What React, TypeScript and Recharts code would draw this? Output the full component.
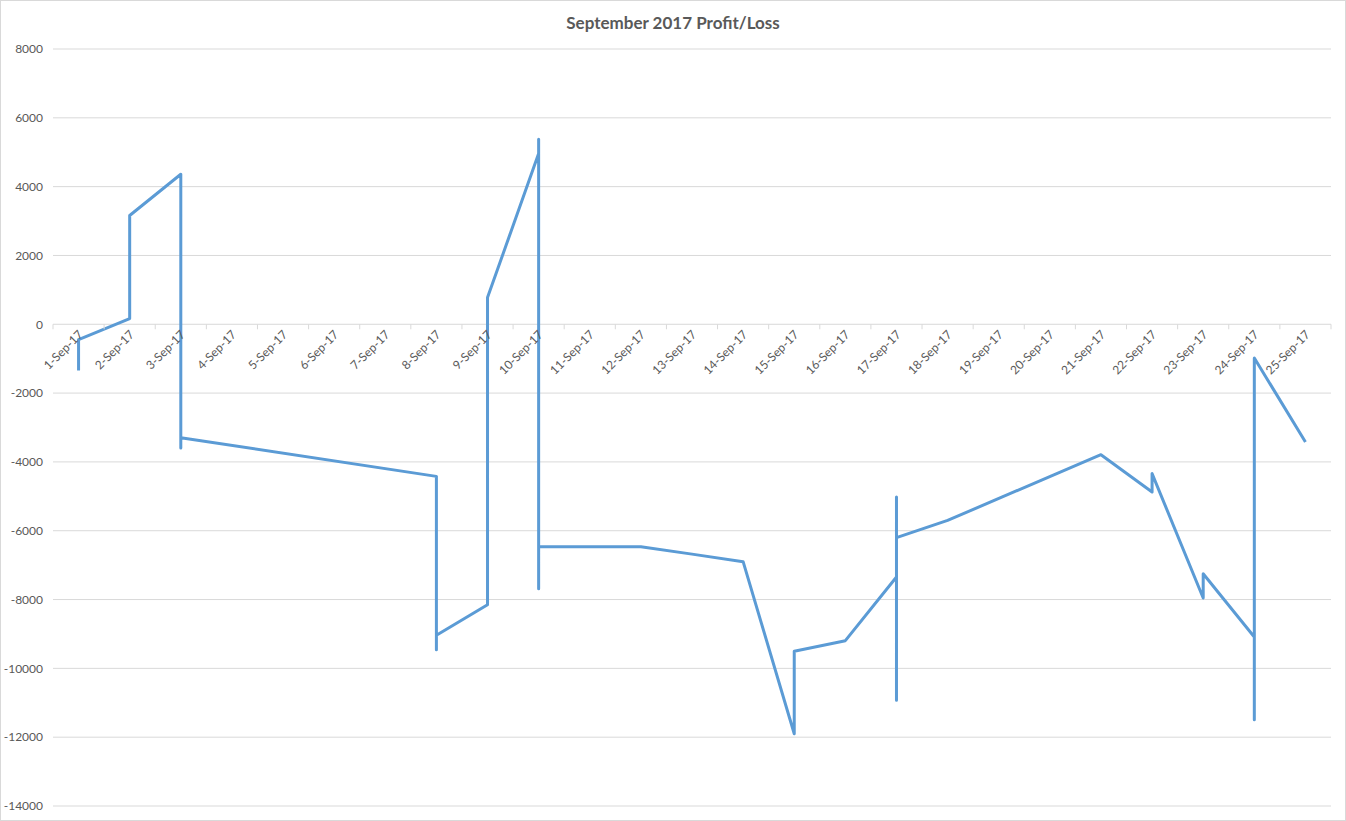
import React from "react";
import {
  LineChart,
  Line,
  XAxis,
  YAxis,
  CartesianGrid,
  ReferenceDot,
} from "recharts";

// each point is one trade day; repeated days draw the vertical jumps
const pointDays = [
  1, 1, 2, 2, 3, 3, 3, 8, 8, 8, 9, 9, 10, 10, 10, 10, 12, 13, 14, 15, 15, 16,
  17, 17, 17, 17, 18, 21, 22, 22, 23, 23, 24, 24, 24, 25,
];
const pnlValues = [
  -1340, -445, 165, 3160, 4360, -3595, -3295, -4420, -9460, -9040, -8150, 775,
  4960, 5380, -7685, -6465, -6465, -6680, -6900, -11900, -9500, -9195, -7345,
  -10930, -5020, -6200, -5700, -3790, -4875, -4340, -7955, -7250, -9090, -11490,
  -980, -3420,
];

const dayTicks = [
  1, 2, 3, 4, 5, 6, 7, 8, 9, 10, 11, 12, 13, 14, 15, 16, 17, 18, 19, 20, 21,
  22, 23, 24, 25,
];
const dayLabels = [
  "1-Sep-17", "2-Sep-17", "3-Sep-17", "4-Sep-17", "5-Sep-17", "6-Sep-17",
  "7-Sep-17", "8-Sep-17", "9-Sep-17", "10-Sep-17", "11-Sep-17", "12-Sep-17",
  "13-Sep-17", "14-Sep-17", "15-Sep-17", "16-Sep-17", "17-Sep-17", "18-Sep-17",
  "19-Sep-17", "20-Sep-17", "21-Sep-17", "22-Sep-17", "23-Sep-17", "24-Sep-17",
  "25-Sep-17",
];
const valueTicks = [
  -14000, -12000, -10000, -8000, -6000, -4000, -2000, 0, 2000, 4000, 6000, 8000,
];

const data = pointDays.map((day, i) => ({ day, pnl: pnlValues[i] }));
const dayBounds = [0, ...dayTicks].map((d) => d + 0.5);

const FONT = "Lato, 'Noto Sans', sans-serif";
const GRID = "#d9d9d9";
const TEXT = "#595959";

function DayLabel({ cx, cy, text }: { cx?: number; cy?: number; text: string }) {
  if (cx == null || cy == null) return null;
  const x = cx + 3;
  const y = cy + 9;
  return (
    <text
      x={x}
      y={y}
      textAnchor="end"
      dominantBaseline="middle"
      transform={`rotate(-45 ${x} ${y})`}
      fill={TEXT}
      fontSize={12}
      fontFamily={FONT}
    >
      {text}
    </text>
  );
}

function TickMark({ cx, cy }: { cx?: number; cy?: number }) {
  if (cx == null || cy == null) return null;
  return <line x1={cx} y1={cy} x2={cx} y2={cy + 5} stroke={GRID} strokeWidth={1} />;
}

export default function App() {
  return (
    <div
      style={{
        position: "absolute",
        left: 0,
        top: 0,
        width: 1346,
        height: 821,
        border: `1px solid ${GRID}`,
        boxSizing: "border-box",
        background: "#fff",
        fontFamily: FONT,
      }}
    >
      <div
        style={{
          position: "absolute",
          top: 11,
          left: 0,
          width: "100%",
          textAlign: "center",
          fontSize: 17,
          fontWeight: 700,
          color: TEXT,
        }}
      >
        September 2017 Profit/Loss
      </div>
      <LineChart
        width={1344}
        height={819}
        data={data}
        margin={{ top: 48, right: 14, bottom: 14, left: 0 }}
      >
        <CartesianGrid horizontal vertical={false} stroke={GRID} />
        <XAxis
          dataKey="day"
          type="number"
          domain={[0.5, 25.5]}
          ticks={dayTicks}
          allowDataOverflow
          hide
        />
        <YAxis
          type="number"
          domain={[-14000, 8000]}
          ticks={valueTicks}
          width={52}
          axisLine={false}
          tickLine={false}
          tickMargin={4}
          tick={{ fill: TEXT, fontSize: 12, fontFamily: FONT }}
        />
        {dayBounds.map((b) => (
          <ReferenceDot
            key={`b${b}`}
            x={b}
            y={0}
            r={0}
            ifOverflow="visible"
            shape={(p: any) => <TickMark cx={p.cx} cy={p.cy} />}
          />
        ))}
        {dayTicks.map((d, i) => (
          <ReferenceDot
            key={`d${d}`}
            x={d}
            y={0}
            r={0}
            ifOverflow="visible"
            shape={(p: any) => <DayLabel cx={p.cx} cy={p.cy} text={dayLabels[i]} />}
          />
        ))}
        <Line
          type="linear"
          dataKey="pnl"
          stroke="#5b9bd5"
          strokeWidth={3}
          strokeLinejoin="round"
          dot={false}
          activeDot={false}
          isAnimationActive={false}
        />
      </LineChart>
    </div>
  );
}
